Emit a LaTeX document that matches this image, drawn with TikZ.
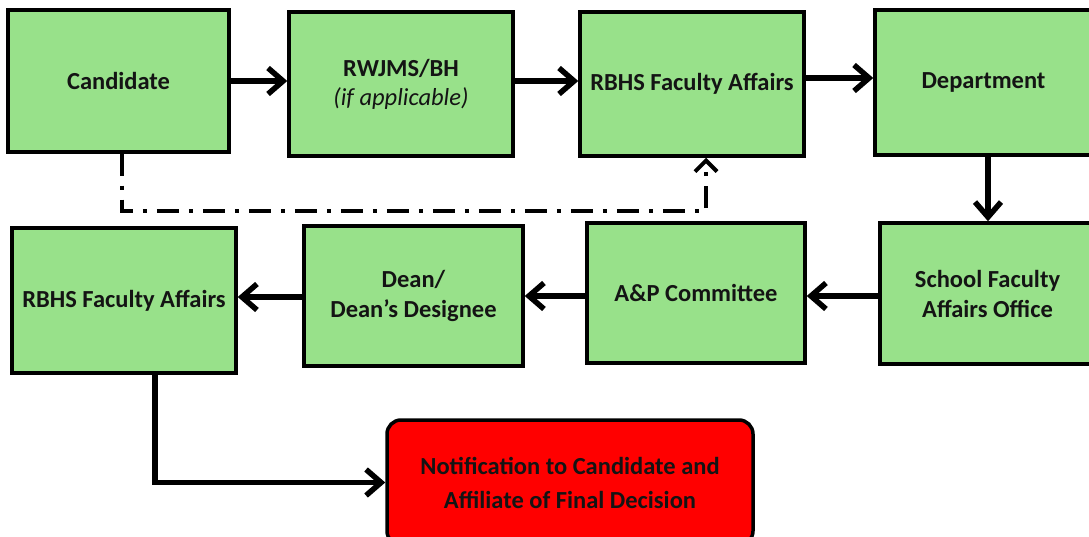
\documentclass[tikz,border=0pt]{standalone}
\usepackage{fontspec}
\setmainfont{Carlito}
\usetikzlibrary{arrows.meta}
\definecolor{boxgreen}{RGB}{152,225,138}
\definecolor{boxred}{RGB}{255,0,0}
\definecolor{txt}{RGB}{20,20,20}
\tikzset{
  box/.style={draw=black, line width=3.5pt, fill=boxgreen, inner sep=0pt, align=center,
    font=\fontsize{24.5}{30}\selectfont\bfseries, text=txt},
  redbox/.style={box, fill=boxred, rounded corners=14pt, font=\fontsize{24.5}{34}\selectfont\bfseries},
  arr/.style={line width=5.5pt, -{Straight Barb[length=15pt,width=26pt,line width=5.5pt]}},
  dasharr/.style={line width=4.5pt, -{Straight Barb[length=11pt,width=22pt,line width=4pt]}, dash pattern=on 22pt off 10pt on 4pt off 10pt}
}
\begin{document}
\begin{tikzpicture}[x=1pt,y=-1pt]
\useasboundingbox[fill=white] (0,0) rectangle (1089,537);
\node[box, minimum width=221, minimum height=142] (cand) at (118.5,81) {\raisebox{-2pt}{Candidate}};
\node[box, minimum width=224, minimum height=144] (rwj) at (401,84) {RWJMS/BH\\[-1pt]{\normalfont\itshape (if applicable)}};
\node[box, minimum width=224, minimum height=144] (rbhsa) at (692,84) {RBHS Faculty Affairs};
\node[box, minimum width=225, minimum height=145, text width=215] (dept) at (987.5,82.5) {\hspace*{-8pt}Department};
\node[box, minimum width=215, minimum height=141] (sfao) at (987.5,293.5) {School Faculty\\Affairs Office};
\node[box, minimum width=218, minimum height=140] (ap) at (696,293) {\raisebox{-3pt}{A\&P Committee}};
\node[box, minimum width=219, minimum height=140] (dean) at (413.5,296) {Dean/\\Dean’s Designee};
\node[box, minimum width=224, minimum height=145] (rbhsb) at (124,300.5) {RBHS Faculty Affairs};
\node[redbox, minimum width=366, minimum height=125] (note) at (570,482.5) {Notification to Candidate and\\Affiliate of Final Decision};
\coordinate (ya) at (0,81);
\coordinate (yb) at (0,78);
\coordinate (yc) at (0,296);
\coordinate (yd) at (0,297);
\coordinate (dx) at (988,0);
\coordinate (bx) at (155,0);
\coordinate (cx) at (122,0);
\coordinate (rx) at (706,0);
\coordinate (turn) at (122,211);
\draw[arr] (cand.east |- ya) -- (rwj.west |- ya);
\draw[arr] (rwj.east |- ya) -- (rbhsa.west |- ya);
\draw[arr] (rbhsa.east |- yb) -- (dept.west |- yb);
\draw[arr] (dept.south -| dx) -- (sfao.north -| dx);
\draw[arr] (sfao.west |- yc) -- (ap.east |- yc);
\draw[arr] (ap.west |- yc) -- (dean.east |- yc);
\draw[arr] (dean.west |- yd) -- (rbhsb.east |- yd);
\draw[arr] (rbhsb.south -| bx) |- (note.west);
\draw[dasharr] (cand.south -| cx) -- (turn) -| (rbhsa.south -| rx);
\end{tikzpicture}
\end{document}
